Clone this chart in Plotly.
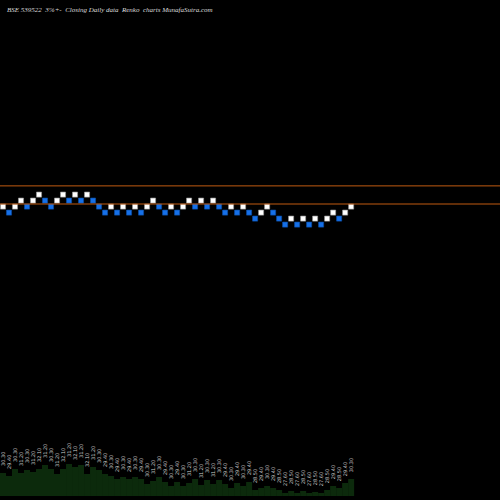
import plotly.graph_objects as go

levels = [0,-1,0,1,0,1,2,1,0,1,2,1,2,1,2,1,0,-1,0,-1,0,-1,0,-1,0,1,0,-1,0,-1,0,1,0,1,0,1,0,-1,0,-1,0,-1,-2,-1,0,-1,-2,-3,-2,-3,-2,-3,-2,-3,-2,-1,-2,-1,0]
volumes = [23,20,27,23,26,24,27,31,27,22,27,32,29,31,22,29,26,22,20,17,19,17,19,17,12,15,19,14,10,14,10,13,17,11,16,12,16,12,8,13,10,14,6,8,10,8,6,3,5,3,5,3,4,3,6,10,8,13,17]
labels = ["30.30","29.40","30.30","31.20","30.30","31.20","32.10","31.20","30.30","31.20","32.10","31.20",
          "32.10","31.20","32.10","31.20","30.30","29.40","30.30","29.40","30.30","29.40","30.30","29.40",
          "30.30","31.20","30.30","29.40","30.30","29.40","30.30","31.20","30.30","31.20","30.30","31.20",
          "30.30","29.40","30.30","29.40","30.30","29.40","28.50","29.40","30.30","29.40","28.50","27.60",
          "28.50","27.60","28.50","27.60","28.50","27.60","28.50","29.40","28.50","29.40","30.30"]
lines = [3.45, 0.43]

n = len(levels)
xs = [i + 0.5 for i in range(n)]
colors, borders = [], []
for i, l in enumerate(levels):
    up = i == 0 or l > levels[i-1]
    colors.append("#ffffff" if up else "#1670e8")
    borders.append("#999999" if up else "#0b4fa8")

fig = go.Figure()
fig.add_trace(go.Bar(x=xs, y=volumes, width=1.0, marker=dict(color="#0c2a0c", line=dict(width=0)),
                     yaxis="y2", hoverinfo="skip"))
fig.add_trace(go.Bar(x=xs, y=[0.85]*n, base=[l-0.425 for l in levels], width=0.85,
                     marker=dict(color=colors, line=dict(color=borders, width=0.6))))
for v in lines:
    fig.add_shape(type="line", xref="paper", x0=0, x1=1, y0=v, y1=v, line=dict(color="#c05a10", width=1))
ann = [dict(x=xs[i], y=volumes[i]+5, xref="x", yref="y2", text=labels[i], textangle=-90,
            showarrow=False, yanchor="bottom", font=dict(size=5, color="#cccccc", family="DejaVu Sans"))
       for i in range(n)]
ann.append(dict(x=0.01, y=0.993, xref="paper", yref="paper", xanchor="left", yanchor="top", showarrow=False,
                text="<i>BSE 539522  3%+-  Closing Daily data  Renko  charts MunafaSutra.com</i>",
                font=dict(size=7, color="#dddddd", family="Liberation Serif")))
fig.update_layout(width=500, height=500, margin=dict(l=0, r=0, t=0, b=0),
                  paper_bgcolor="black", plot_bgcolor="black", showlegend=False, barmode="overlay",
                  xaxis=dict(range=[0, 83.3], visible=False),
                  yaxis=dict(range=[-48.9, 34.43], visible=False),
                  yaxis2=dict(range=[-4, 496], overlaying="y", visible=False),
                  annotations=ann)
fig.write_html("out.html", config={"displayModeBar": False})
with open("out.html") as f:
    html = f.read()
html = html.replace("<body>", '<body style="margin:0;background:black">', 1)
with open("out.html", "w") as f:
    f.write(html)
